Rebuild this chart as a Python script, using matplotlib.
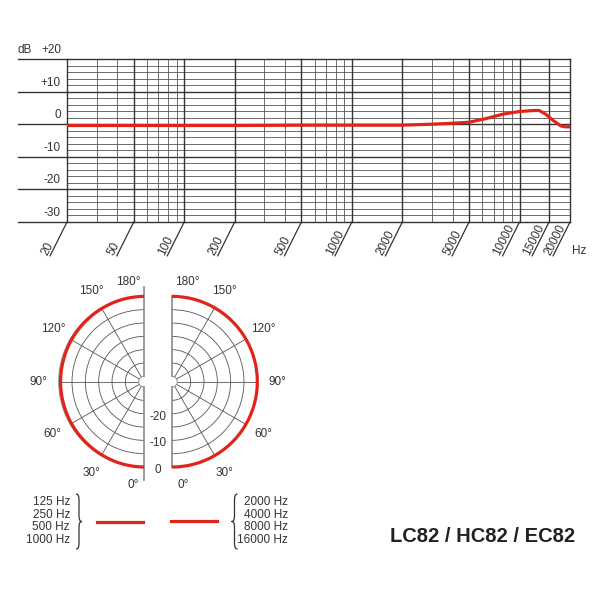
import numpy as np
import matplotlib
matplotlib.use('Agg')
import matplotlib.pyplot as plt
from matplotlib.path import Path
from matplotlib.patches import PathPatch
from matplotlib.lines import Line2D

plt.rcParams['font.family'] = ['Liberation Sans', 'DejaVu Sans']

# frequency response
freq_hz = [20, 50, 100, 200, 500, 1000, 2000, 3000, 4000, 5000, 6400, 8000,
           10000, 12200, 13100, 14300, 16000, 17600, 18600, 20000]
resp_db = [-0.4, -0.4, -0.4, -0.4, -0.3, -0.3, -0.3, 0.0, 0.3, 0.6, 1.8, 3.1,
           3.9, 4.2, 4.2, 3.1, 1.0, -0.5, -0.8, -0.8]

db_major = [-30, -20, -10, 0, 10, 20]
db_labels = ['-30', '-20', '-10', '0', '+10', '+20']
hz_major = [20, 50, 100, 200, 500, 1000, 2000, 5000, 10000, 15000, 20000]
hz_minor = [30, 40, 60, 70, 80, 90, 300, 400, 600, 700, 800, 900,
            3000, 4000, 6000, 7000, 8000, 9000]

# polar pattern (dB vs angle)
polar_deg = [0, 15, 30, 45, 60, 75, 90, 105, 120, 135, 150, 165, 180]
low_db = [0, -0.1, -0.3, -0.5, -0.6, -0.7, -0.7, -0.7, -0.6, -0.5, -0.3, -0.1, 0]
high_db = [0, 0, 0, 0, 0, 0, 0, 0, 0, 0, 0, 0, 0]
ring_db = [-25, -20, -15, -10, -5]
ring_labels = ['0', '-10', '-20']
ring_label_db = [0, -10, -20]
spoke_deg = [30, 60, 90, 120, 150]
angle_labels = ['0°', '30°', '60°', '90°', '120°', '150°', '180°']

low_bands = ['125 Hz', '250 Hz', '500 Hz', '1000 Hz']
high_bands = ['2000 Hz', '4000 Hz', '8000 Hz', '16000 Hz']
title = 'LC82 / HC82 / EC82'

RED = '#e2231a'
INK = '#333333'
GRID = '#555555'
FS = 8.5

fig = plt.figure(figsize=(6, 6), dpi=100)


def fx(px):
    return px / 600.0


def fy(py):
    return 1 - py / 600.0


# ---- frequency response chart ----
ax = fig.add_axes([fx(67), fy(222), 503 / 600, 163 / 600])
ax.set_xscale('log')
ax.set_xlim(20, 20000)
ax.set_ylim(-30, 20)
ax.tick_params(which='both', length=0, labelbottom=False, labelleft=False)
for s in ax.spines.values():
    s.set_visible(False)

for d in range(-30, 21, 2):
    if d % 10:
        ax.axhline(d, color=GRID, lw=0.6)
for d in db_major:
    ax.axhline(d, xmin=-0.0974, xmax=1, color=INK, lw=1.0, clip_on=False)
for f in hz_minor:
    ax.axvline(f, color=GRID, lw=0.6)
for f in hz_major:
    ax.axvline(f, color=INK, lw=1.0, clip_on=False)

for f in hz_major:
    ax.annotate('', xy=(f, -30), xytext=(-17, -34), textcoords='offset pixels',
                arrowprops=dict(arrowstyle='-', color=INK, lw=0.9,
                                shrinkA=0, shrinkB=0))
    ax.annotate(str(f), xy=(f, -30), xytext=(-20, -34), textcoords='offset pixels',
                rotation=63, rotation_mode='anchor', ha='left', va='baseline',
                fontsize=FS, color=INK)

for d, lab in zip(db_major, db_labels):
    ax.annotate(lab, xy=(0, d), xycoords=('axes fraction', 'data'),
                xytext=(-6, 3), textcoords='offset pixels',
                ha='right', va='bottom', fontsize=FS, color=INK)
ax.annotate('dB', xy=(0, 20), xycoords=('axes fraction', 'data'),
            xytext=(-49, 3), textcoords='offset pixels',
            ha='left', va='bottom', fontsize=FS, color=INK)
ax.annotate('Hz', xy=(1, -30), xycoords=('axes fraction', 'data'),
            xytext=(2, -32), textcoords='offset pixels',
            ha='left', va='baseline', fontsize=FS, color=INK)

ax.plot(freq_hz, resp_db, color=RED, lw=2.3, solid_capstyle='butt', zorder=5)

# ---- polar patterns ----
R = 85.3
CY = 381.7


def half_polar(cx, left):
    x0 = cx - 1.5 * R if left else cx - 0.5 * R
    p = fig.add_axes([fx(x0), fy(CY + R), 2 * R / 600, 2 * R / 600],
                     projection='polar')
    p.set_theta_zero_location('S')
    p.set_theta_direction(-1 if left else 1)
    p.set_thetamin(0)
    p.set_thetamax(180)
    p.set_rlim(-30, 0)
    p.set_rorigin(-32)
    p.set_thetagrids(spoke_deg, labels=[''] * len(spoke_deg))
    p.set_rgrids(ring_db, labels=[''] * len(ring_db))
    p.grid(color=GRID, lw=0.6)
    p.tick_params(length=0)
    for s in p.spines.values():
        s.set_color('#8a8a8a')
        s.set_linewidth(1.2)
    p.spines['inner'].set_linewidth(0.7)
    p.spines['polar'].set_linewidth(0.7)
    return p


ax_l = half_polar(144, True)
ax_r = half_polar(172, False)

for p, vals in ((ax_l, low_db), (ax_r, high_db)):
    line, = p.plot(np.deg2rad(polar_deg), vals, color=RED, lw=2.3,
                   solid_capstyle='butt', clip_on=False, zorder=5)
    # draw segments as arcs, same as the polar grid lines
    line.get_path()._interpolation_steps = 60

# left divider runs past the circle
ax_l.plot([0, 0], [0, 4.8], color='#8a8a8a', lw=1.2, clip_on=False)
ax_l.plot([np.pi, np.pi], [0, 3.6], color='#8a8a8a', lw=1.2, clip_on=False)

label_pos = [(6, 6.8), (30, 7.5), (60, 7.5), (90, 7.5), (120, 7.5),
             (150, 7.5), (171, 5.8)]
for p in (ax_l, ax_r):
    for (a, r), lab in zip(label_pos, angle_labels):
        p.text(np.deg2rad(a), r, lab, ha='center', va='center',
               fontsize=FS, color=INK, clip_on=False)

for r, lab in zip(ring_label_db, ring_labels):
    ax_r.annotate(lab, xy=(0, r), xytext=(-14, -3), textcoords='offset pixels',
                  ha='center', va='center', fontsize=FS, color=INK)

# ---- legend ----
fig.text(fx(70), fy(521), '\n'.join(low_bands), ha='right', va='center',
         multialignment='right', fontsize=FS, linespacing=1.1, color=INK)
fig.text(fx(288), fy(521), '\n'.join(high_bands), ha='right', va='center',
         multialignment='right', fontsize=FS, linespacing=1.1, color=INK)

fig.add_artist(Line2D([fx(97), fx(143)], [fy(522), fy(522)], color=RED, lw=2.3))
fig.add_artist(Line2D([fx(171), fx(217)], [fy(521), fy(521)], color=RED, lw=2.3))


def brace(x, top, bot, s, w=3.0):
    mid = (top + bot) / 2
    pts = [(x - s * w, top),
           (x - s * w * 0.2, top), (x, top + 2), (x, top + 7),
           (x, mid - 7),
           (x, mid - 2), (x + s * w * 0.2, mid), (x + s * w, mid),
           (x + s * w * 0.2, mid), (x, mid + 2), (x, mid + 7),
           (x, bot - 7),
           (x, bot - 2), (x - s * w * 0.2, bot), (x - s * w, bot)]
    codes = ([Path.MOVETO] + [Path.CURVE4] * 3 + [Path.LINETO] + [Path.CURVE4] * 6
             + [Path.LINETO] + [Path.CURVE4] * 3)
    verts = [(fx(a), fy(b)) for a, b in pts]
    fig.add_artist(PathPatch(Path(verts, codes), transform=fig.transFigure,
                             fill=False, lw=0.9, edgecolor=INK))


brace(79, 494, 549, 1)
brace(234.5, 494, 549, -1)

fig.text(fx(483), fy(537), title, ha='center', va='center', fontsize=14.5,
         fontweight='bold', color='#222222')

fig.savefig('out.png', dpi=100, facecolor='white')
